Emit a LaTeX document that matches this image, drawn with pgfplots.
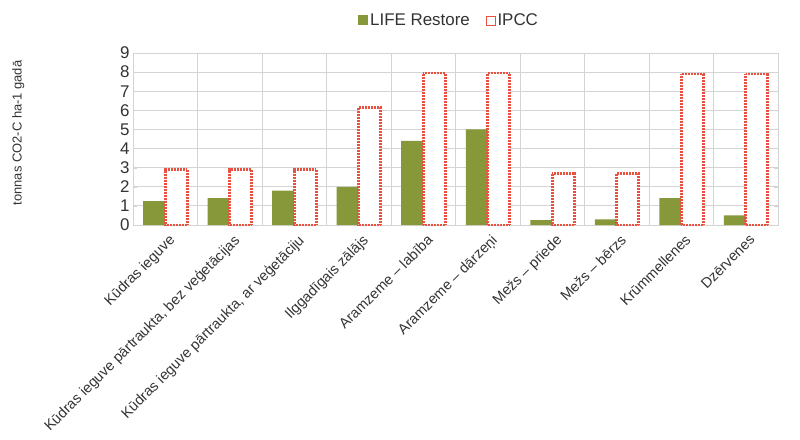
\documentclass[border=0pt]{standalone}
\usepackage{fontspec}
\setmainfont{Liberation Sans}
\usepackage{pgfplots}
\pgfplotsset{compat=1.18}
\definecolor{lifegreen}{HTML}{87983A}
\definecolor{ipccred}{HTML}{EA5040}
\definecolor{gridgray}{HTML}{D4D4D4}

\begin{document}
\begin{tikzpicture}
\useasboundingbox (-133bp,-215bp) rectangle (667bp,225bp);
\begin{axis}[
    scale only axis,
    width=645bp, height=172bp,
    ybar=0pt, bar width=22bp,
    xmin=-0.5, xmax=9.5,
    ymin=0, ymax=9,
    ytick={0,1,...,9},
    xtick={0,1,...,9},
    xticklabels={Kūdras ieguve, {Kūdras ieguve pārtraukta, bez veģetācijas}, {Kūdras ieguve pārtraukta, ar veģetāciju}, Ilggadīgais zālājs, Aramzeme – labība, Aramzeme – dārzeņi, Mežs – priede, Mežs – bērzs, Krūmmellenes, Dzērvenes},
    minor x tick num=1,
    xminorgrids=true, ymajorgrids=true,
    major x tick style={draw=none},
    minor x tick style={draw=none},
    major y tick style={gridgray},
    grid style={gridgray, line width=0.8bp},
    minor grid style={gridgray, line width=0.8bp},
    axis line style={gridgray, line width=0.8bp},
    /pgf/number format/assume math mode=true,
    yticklabel style={font=\fontsize{17}{17}\selectfont, text=black!80},
    xticklabel style={rotate=45, anchor=north east, font=\fontsize{14.5}{14.5}\selectfont, text=black!80, inner sep=1bp, yshift=-4bp},
    ylabel={tonnas CO2-C ha-1 gadā},
    ylabel style={at={(axis description cs:-0.178,0.535)}, anchor=center, font=\fontsize{13}{13}\selectfont, text=black!80},
    legend columns=2,
    legend style={draw=none, at={(axis description cs:0.49,1.19)}, anchor=center,
        font=\fontsize{17}{17}\selectfont, text=black!80,
        /tikz/every even column/.append style={column sep=14bp}},
]
\addplot[fill=lifegreen, draw=none,
    legend image code/.code={\fill[lifegreen] (0bp,-5bp) rectangle (10bp,5bp);}] coordinates {
    (0,1.25) (1,1.4) (2,1.8) (3,2.0) (4,4.4) (5,5.0) (6,0.25) (7,0.3) (8,1.4) (9,0.5)};
\addlegendentry{LIFE Restore}
\addplot[fill=white, draw=ipccred, line width=2.6bp, dash pattern=on 0.9bp off 0.6bp,
    legend image code/.code={\path[draw=ipccred, fill=white, line width=0.6bp, solid] (0.5bp,-4.5bp) rectangle (9.5bp,4.5bp);}] coordinates {
    (0,2.9) (1,2.9) (2,2.9) (3,6.15) (4,7.95) (5,7.95) (6,2.7) (7,2.7) (8,7.9) (9,7.9)};
\addlegendentry{IPCC}
\end{axis}
\end{tikzpicture}
\end{document}
